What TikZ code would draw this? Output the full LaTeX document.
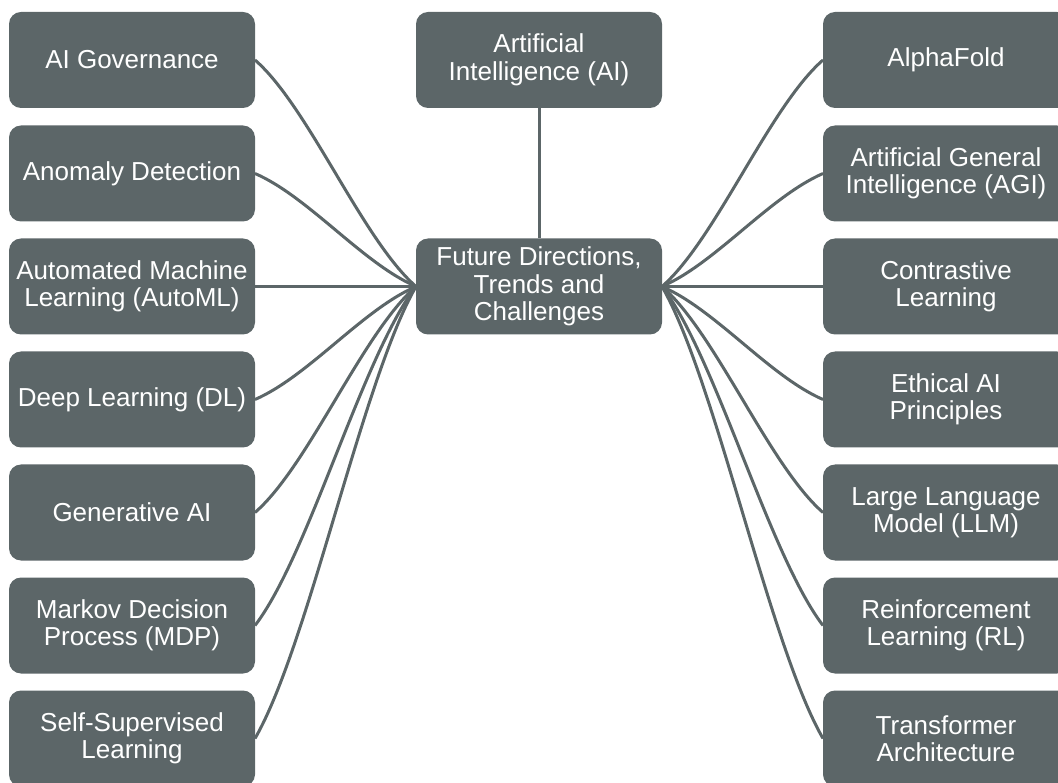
\documentclass[tikz,border=0pt]{standalone}
\usepackage{fontspec}
\setmainfont{Liberation Sans}
\definecolor{slate}{HTML}{5C6668}
\begin{document}
\begin{tikzpicture}[x=1pt,y=-1pt,
  topic/.style={fill=slate, text=white, rounded corners=12pt,
    minimum width=246pt, minimum height=96pt, inner sep=0pt, outer sep=0pt,
    align=center, font=\fontsize{26}{27.5}\selectfont},
  link/.style={draw=slate, line width=3pt}]
\useasboundingbox (0,0) rectangle (1058,783);

% central topics
\node[topic] (root) at (539,60) {Artificial\\Intelligence (AI)};
\node[topic] (hub) at (539,286.5) {Future Directions,\\Trends and\\Challenges};

% left column
\node[topic] (L1) at (132,60)    {AI Governance};
\node[topic] (L2) at (132,173.5) {Anomaly Detection};
\node[topic] (L3) at (132,286.5) {Automated Machine\\Learning (AutoML)};
\node[topic] (L4) at (132,399.5) {Deep Learning (DL)};
\node[topic] (L5) at (132,512.5) {Generative AI};
\node[topic] (L6) at (132,625.5) {Markov Decision\\Process (MDP)};
\node[topic] (L7) at (132,738.5) {Self-Supervised\\Learning};

% right column
\node[topic] (R1) at (946,60)    {AlphaFold};
\node[topic] (R2) at (946,173.5) {Artificial General\\Intelligence (AGI)};
\node[topic] (R3) at (946,286.5) {Contrastive\\Learning};
\node[topic] (R4) at (946,399.5) {Ethical AI\\Principles};
\node[topic] (R5) at (946,512.5) {Large Language\\Model (LLM)};
\node[topic] (R6) at (946,625.5) {Reinforcement\\Learning (RL)};
\node[topic] (R7) at (946,738.5) {Transformer\\Architecture};

% connectors
\draw[link] (root.south) -- (hub.north);
\foreach \i/\y in {1/60,2/173.5,3/286.5,4/399.5,5/512.5,6/625.5,7/738.5}{
  \draw[link] (L\i.east) .. controls +(53.7,{0.2067*(286.5-\y)})
      and +(-53.7,{-0.2067*(286.5-\y)}) .. (hub.west);
  \draw[link] (hub.east) .. controls +(53.7,{0.2067*(\y-286.5)})
      and +(-53.7,{-0.2067*(\y-286.5)}) .. (R\i.west);
}
\end{tikzpicture}
\end{document}
